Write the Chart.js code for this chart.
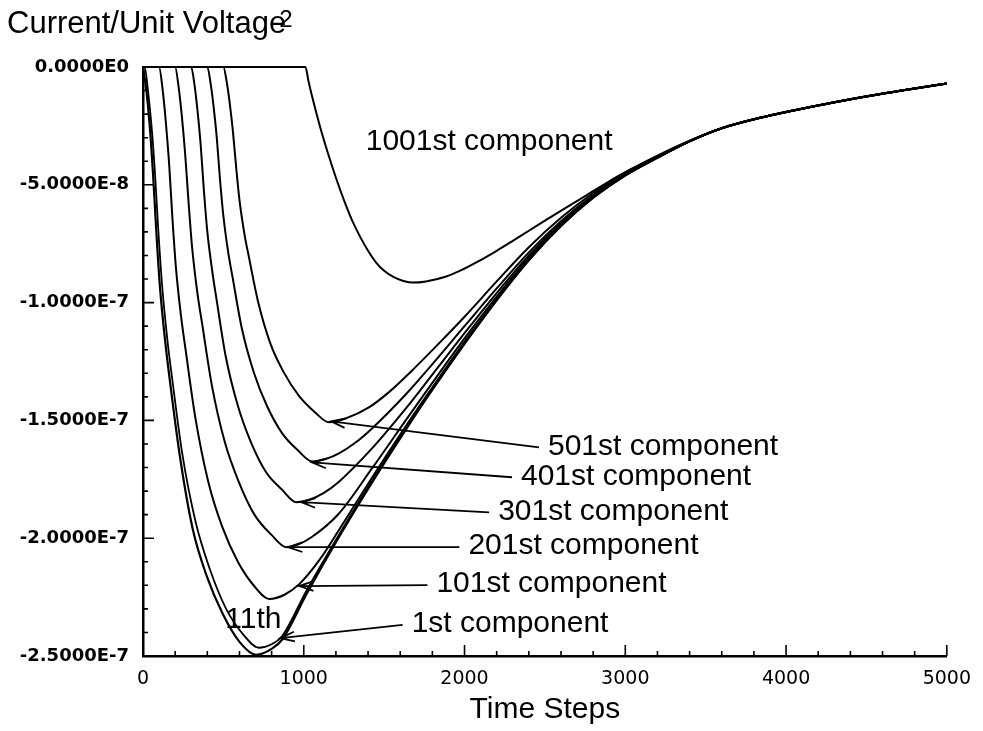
<!DOCTYPE html>
<html>
<head>
<meta charset="utf-8">
<script src="https://cdn.jsdelivr.net/npm/chart.js@4.4.1/dist/chart.umd.min.js"></script>
<style>
  html, body { margin: 0; padding: 0; background: #fff; }
  #wrap { position: relative; width: 983px; height: 731px; }
  #ttl { position: absolute; left: 7px; top: 8px; font: 31px "Liberation Sans", Arial, sans-serif; line-height: 30px; color: #000; white-space: nowrap; }
  #ttl span { font-size: 24px; margin-left: -7px; position: relative; top: -6px; }
  canvas { position: absolute; left: 0; top: 0; }
</style>
</head>
<body>
<div id="wrap">
  <canvas id="c" width="983" height="731"></canvas>
  <div id="ttl">Current/Unit Voltage<span>2</span></div>
</div>
<script>
// ---------- data (values in units of 1e-8) ----------
const UNIT = 1e-8;
const xTickValues = [0, 1000, 2000, 3000, 4000, 5000];
const xTickLabels = ['0', '1000', '2000', '3000', '4000', '5000'];
const yTickValues = [-2.5e-7, -2e-7, -1.5e-7, -1e-7, -5e-8, 0];
const yTickLabels = ['-2.5000E-7', '-2.0000E-7', '-1.5000E-7', '-1.0000E-7', '-5.0000E-8', '0.0000E0'];

// common tail where all components coincide
const tailT = [3600, 3861, 4150, 4480, 4750, 5000];
const tailV = [-2.6, -2.12, -1.7, -1.27, -0.97, -0.7];

const t1st = [0,21,42,62,83,105,139,167,229,309,396,495,600,705,800,866,1015,1219,1423,1634,1795,2000,2200,2400,2600,2800,3000,3200,3400];
const v1st = [0,-1.0,-2.5,-4.5,-7.0,-9.3,-11.7,-13.3,-16.5,-19.6,-21.6,-23.2,-24.4,-24.95,-24.7,-24.3,-22.4,-19.95,-17.65,-15.4,-13.75,-11.75,-9.9,-8.2,-6.75,-5.55,-4.6,-3.85,-3.15];

const t11th = [0,10,31,53,74,95,118,152,181,244,327,415,517,625,720,800,866,1015,1219,1423,1634,1795,2000,2200,2400,2600,2800,3000,3200,3400];
const v11th = [0,0,-1.0,-2.5,-4.45,-6.9,-9.2,-11.6,-13.2,-16.4,-19.3,-21.3,-23.0,-24.1,-24.65,-24.5,-24.15,-22.25,-19.85,-17.58,-15.35,-13.72,-11.73,-9.89,-8.19,-6.75,-5.55,-4.6,-3.85,-3.15];

const t101st = [0,100,121,141,162,182,204,237,265,326,406,492,590,694,786,880,972,1100,1219,1423,1634,1795,2000,2200,2400,2600,2800,3000,3200,3400];
const v101st = [0,0,-0.9,-2.26,-4.06,-6.3,-8.45,-10.6,-12.0,-14.9,-17.6,-19.5,-21.0,-22.05,-22.58,-22.4,-21.95,-20.9,-19.65,-17.45,-15.25,-13.65,-11.67,-9.85,-8.17,-6.73,-5.54,-4.6,-3.85,-3.15];

const t201st = [0,200,221,241,262,283,305,338,367,428,508,595,693,798,891,960,1050,1219,1423,1634,1795,2000,2200,2400,2600,2800,3000,3200,3400];
const v201st = [0,0,-0.82,-2.04,-3.67,-5.7,-7.62,-9.58,-10.86,-13.5,-15.9,-17.6,-19.0,-19.85,-20.38,-20.28,-19.95,-18.95,-17.05,-15.0,-13.45,-11.52,-9.75,-8.1,-6.69,-5.52,-4.58,-3.84,-3.15];

const t301st = [0,300,320,339,359,378,399,431,457,515,591,673,766,866,953,1030,1120,1219,1423,1634,1795,2000,2200,2400,2600,2800,3000,3200,3400];
const v301st = [0,0,-0.74,-1.85,-3.32,-5.17,-6.91,-8.68,-9.84,-12.3,-14.4,-15.95,-17.2,-17.95,-18.47,-18.38,-18.1,-17.6,-16.2,-14.5,-13.1,-11.3,-9.6,-8.0,-6.63,-5.49,-4.56,-3.83,-3.15];

const t401st = [0,400,420,439,459,478,499,530,557,615,691,772,866,965,1052,1140,1219,1320,1423,1634,1795,2000,2200,2400,2600,2800,3000,3200,3400];
const v401st = [0,0,-0.67,-1.67,-3.01,-4.69,-6.26,-7.87,-8.92,-11.1,-13.0,-14.4,-15.55,-16.28,-16.74,-16.63,-16.4,-15.95,-15.35,-13.9,-12.65,-11.0,-9.4,-7.87,-6.55,-5.44,-4.53,-3.82,-3.15];

const t501st = [0,500,520,539,559,579,600,631,658,717,793,875,969,1069,1157,1260,1405,1530,1671,1881,2000,2200,2400,2600,2800,3000,3200,3400];
const v501st = [0,0,-0.6,-1.51,-2.71,-4.22,-5.64,-7.09,-8.04,-10.0,-11.75,-12.95,-13.95,-14.65,-15.08,-14.92,-14.45,-13.8,-12.9,-11.45,-10.6,-9.1,-7.65,-6.4,-5.35,-4.48,-3.8,-3.15];

const t1001st = [0,1010,1030,1050,1100,1150,1200,1250,1300,1350,1400,1450,1500,1560,1620,1680,1760,1881,1980,2085,2200,2300,2400,2500,2624,2750,2900,3032,3200,3400];
const v1001st = [0,0,-0.62,-1.2,-2.5,-3.65,-4.7,-5.65,-6.5,-7.2,-7.8,-8.3,-8.65,-8.92,-9.08,-9.15,-9.1,-8.9,-8.62,-8.25,-7.8,-7.38,-6.95,-6.52,-6.0,-5.48,-4.85,-4.35,-3.76,-3.13];

// annotation labels with arrows (text anchor = left/middle, tip on curve)
const arrowTexts = ['501st component', '401st component', '301st component', '201st component', '101st component', '1st component'];
const arrowTextT = [2519, 2351, 2209, 2024, 1825, 1671];
const arrowTextV = [-16.10, -17.37, -18.86, -20.34, -21.95, -23.64];
const arrowTipT = [1170, 1052, 984, 903, 972, 854];
const arrowTipV = [-15.04, -16.78, -18.47, -20.38, -22.03, -24.24];
// plain labels (centered)
const plainTexts = ['1001st component', '11th'];
const plainT = [2153, 687];
const plainV = [-3.18, -23.47];

// ---------- build ----------
function pts(ts, vs) {
  const T = ts.concat(tailT), V = vs.concat(tailV);
  return T.map((t, i) => ({ x: t, y: V[i] * UNIT }));
}
const series = [
  { name: '1st', t: t1st, v: v1st, w: 2.2 },
  { name: '11th', t: t11th, v: v11th, w: 1.8 },
  { name: '101st', t: t101st, v: v101st, w: 2 },
  { name: '201st', t: t201st, v: v201st, w: 2 },
  { name: '301st', t: t301st, v: v301st, w: 2 },
  { name: '401st', t: t401st, v: v401st, w: 2 },
  { name: '501st', t: t501st, v: v501st, w: 2 },
  { name: '1001st', t: t1001st, v: v1001st, w: 2 }
];

const LABEL_FONT = '30px "Liberation Sans", Arial, sans-serif';

const decorPlugin = {
  id: 'decor',
  afterDraw(chart) {
    const { ctx } = chart;
    const xs = chart.scales.x, ys = chart.scales.y;
    const area = chart.chartArea;
    ctx.save();
    ctx.strokeStyle = '#000';
    ctx.fillStyle = '#000';
    // inward ticks on x axis
    ctx.lineWidth = 1.6;
    ctx.beginPath();
    for (let i = 1; i <= 25; i++) {
      const px = xs.getPixelForValue(i * 200);
      const len = (i % 5 === 0) ? 11 : 5;
      ctx.moveTo(px, area.bottom);
      ctx.lineTo(px, area.bottom - len);
    }
    // inward ticks on y axis
    for (let i = 1; i <= 25; i++) {
      const py = ys.getPixelForValue(-i * UNIT);
      const len = (i % 5 === 0) ? 11 : 5;
      ctx.moveTo(area.left, py);
      ctx.lineTo(area.left + len, py);
    }
    ctx.stroke();

    // labels
    ctx.font = LABEL_FONT;
    ctx.textBaseline = 'middle';
    ctx.textAlign = 'center';
    for (let i = 0; i < plainTexts.length; i++) {
      ctx.fillText(plainTexts[i], xs.getPixelForValue(plainT[i]), ys.getPixelForValue(plainV[i] * UNIT));
    }
    ctx.textAlign = 'left';
    ctx.lineWidth = 1.8;
    for (let i = 0; i < arrowTexts.length; i++) {
      const tx = xs.getPixelForValue(arrowTextT[i]);
      const ty = ys.getPixelForValue(arrowTextV[i] * UNIT);
      ctx.fillText(arrowTexts[i], tx, ty);
      const sx = tx - 9, sy = ty + 1;
      const ex = xs.getPixelForValue(arrowTipT[i]);
      const ey = ys.getPixelForValue(arrowTipV[i] * UNIT);
      ctx.beginPath();
      ctx.moveTo(sx, sy);
      ctx.lineTo(ex, ey);
      const ang = Math.atan2(sy - ey, sx - ex);
      const L = 15, spread = 0.33;
      ctx.moveTo(ex + L * Math.cos(ang + spread), ey + L * Math.sin(ang + spread));
      ctx.lineTo(ex, ey);
      ctx.lineTo(ex + L * Math.cos(ang - spread), ey + L * Math.sin(ang - spread));
      ctx.stroke();
    }
    ctx.restore();
  }
};

new Chart(document.getElementById('c'), {
  type: 'line',
  data: {
    datasets: series.map(s => ({
      label: s.name + ' component',
      data: pts(s.t, s.v),
      borderColor: '#000',
      backgroundColor: '#000',
      borderWidth: s.w,
      pointRadius: 0,
      fill: false,
      cubicInterpolationMode: 'monotone',
      clip: false
    }))
  },
  options: {
    responsive: false,
    devicePixelRatio: 1,
    animation: false,
    layout: { padding: { top: 67, right: 32, left: 0, bottom: 0 } },
    plugins: { legend: { display: false }, tooltip: { enabled: false }, title: { display: false } },
    scales: {
      x: {
        type: 'linear',
        min: 0, max: 5000,
        afterFit: s => { s.height = 75; },
        afterBuildTicks: s => { s.ticks = xTickValues.map(v => ({ value: v })); },
        grid: { display: false, drawTicks: false },
        border: { display: true, color: '#000', width: 2.5 },
        ticks: {
          padding: 12,
          maxRotation: 0,
          color: '#000',
          font: { family: '"DejaVu Sans", sans-serif', size: 19 },
          callback: (v, i) => xTickLabels[i]
        },
        title: {
          display: true,
          text: 'Time Steps',
          color: '#000',
          font: { family: '"Liberation Sans", Arial, sans-serif', size: 30 },
          padding: { top: 0, bottom: 3 }
        }
      },
      y: {
        type: 'linear',
        min: -2.5e-7, max: 0,
        afterFit: s => { s.width = 143; },
        afterBuildTicks: s => { s.ticks = yTickValues.map(v => ({ value: v })); },
        grid: { display: false, drawTicks: false },
        border: { display: true, color: '#000', width: 2.5 },
        ticks: {
          padding: 14,
          color: '#000',
          font: { family: '"DejaVu Sans", sans-serif', size: 18, weight: 'bold' },
          callback: (v, i) => yTickLabels[i]
        }
      }
    }
  },
  plugins: [decorPlugin]
});
</script>
</body>
</html>
